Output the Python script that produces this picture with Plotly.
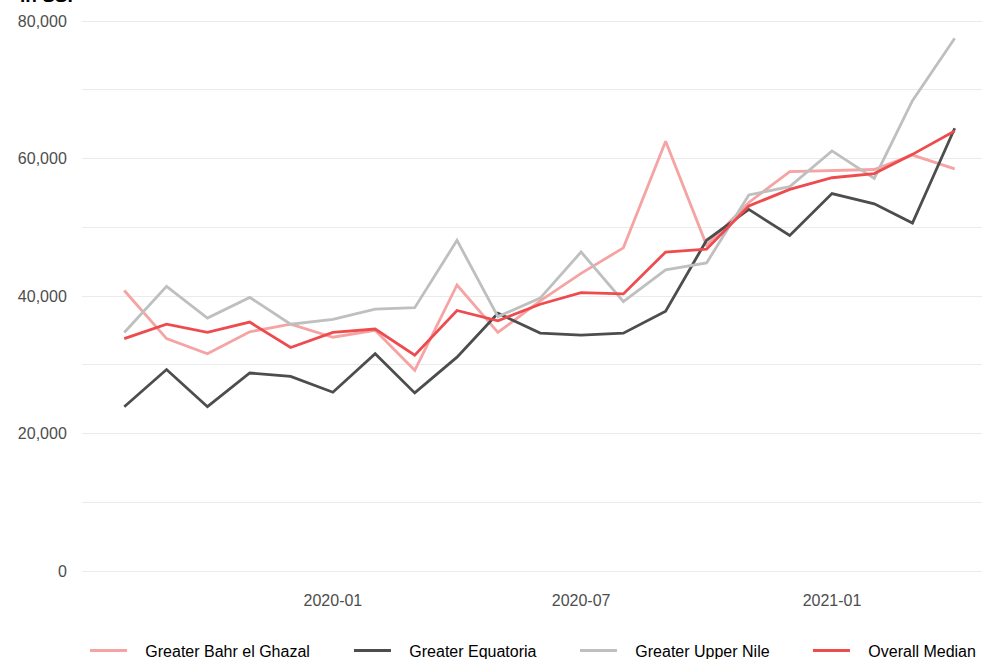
import plotly.graph_objects as go

months = ["2019-08-01", "2019-09-01", "2019-10-01", "2019-11-01", "2019-12-01",
          "2020-01-01", "2020-02-01", "2020-03-01", "2020-04-01", "2020-05-01",
          "2020-06-01", "2020-07-01", "2020-08-01", "2020-09-01", "2020-10-01",
          "2020-11-01", "2020-12-01", "2021-01-01", "2021-02-01", "2021-03-01",
          "2021-04-01"]

bahr_el_ghazal = [40800, 33800, 31600, 34800, 35900, 34000, 35000, 29200, 41600, 34700,
                  39300, 43300, 47000, 62500, 47400, 53600, 58100, 58200, 58400, 60500, 58500]
equatoria = [23900, 29300, 23900, 28800, 28300, 26000, 31600, 25900, 31100, 37500,
             34600, 34300, 34600, 37800, 48100, 52600, 48800, 54900, 53400, 50600, 64400]
upper_nile = [34700, 41400, 36800, 39800, 35900, 36600, 38100, 38300, 48100, 37000,
              39700, 46400, 39200, 43800, 44800, 54700, 55900, 61100, 57100, 68400, 77500]
overall_median = [33800, 35900, 34700, 36200, 32500, 34700, 35200, 31400, 37900, 36400,
                  38800, 40500, 40300, 46400, 46800, 53100, 55500, 57200, 57800, 60600, 64000]

series_names = ["Greater Bahr el Ghazal", "Greater Equatoria", "Greater Upper Nile", "Overall Median"]
series_values = [bahr_el_ghazal, equatoria, upper_nile, overall_median]
series_colors = ["#F5A3A3", "#4D4D4D", "#BEBFBF", "#EE4B4E"]
legend_widths = [212, 174, 181, 122]

y_tick_vals = [0, 20000, 40000, 60000, 80000]
y_tick_text = ["0", "20,000", "40,000", "60,000", "80,000"]
x_tick_vals = ["2020-01-01", "2020-07-01", "2021-01-01"]
x_tick_text = ["2020-01", "2020-07", "2021-01"]

FONT = "Liberation Sans, Arial, Helvetica, sans-serif"
FS = 16
LEGEND_PAD = "\u00a0\u00a0\u00a0"

fig = go.Figure()
for name, vals, col, lw in zip(series_names, series_values, series_colors, legend_widths):
    fig.add_trace(go.Scatter(x=months, y=vals, mode="lines", name=LEGEND_PAD + name,
                             line=dict(color=col, width=2.8), legendwidth=lw))

fig.update_layout(
    width=982, height=659,
    margin=dict(l=82, r=0, t=12, b=77, autoexpand=False),
    paper_bgcolor="white", plot_bgcolor="white",
    font=dict(family=FONT, size=FS, color="#4D4D4D"),
    showlegend=True,
    legend=dict(orientation="h", x=0.0033, xanchor="left", y=-0.0905, yanchor="top",
                font=dict(family=FONT, size=FS, color="#000000"),
                itemwidth=37, traceorder="normal", bgcolor="rgba(0,0,0,0)"),
    xaxis=dict(type="date", range=["2019-07-01", "2021-04-21"],
               tickvals=x_tick_vals, ticktext=x_tick_text,
               showgrid=False, zeroline=False, showline=False,
               ticks="outside", ticklen=4, tickcolor="rgba(0,0,0,0)",
               tickfont=dict(family=FONT, size=FS, color="#4D4D4D")),
    yaxis=dict(range=[-1600, 81309],
               tickvals=y_tick_vals, ticktext=y_tick_text,
               showgrid=True, gridcolor="#EBEBEB", gridwidth=1.2,
               zeroline=False, showline=False,
               minor=dict(tickvals=[10000, 30000, 50000, 70000], showgrid=True,
                          gridcolor="#EBEBEB", gridwidth=1.2),
               ticks="outside", ticklen=11, tickcolor="rgba(0,0,0,0)",
               tickfont=dict(family=FONT, size=FS, color="#4D4D4D")),
)

fig.add_annotation(text="<b>in SSP</b>", xref="paper", yref="paper",
                   x=-0.071, y=1.0075, xanchor="left", yanchor="bottom",
                   showarrow=False, font=dict(family=FONT, size=19, color="#000000"))

fig.write_html("out.html", config={"displayModeBar": False},
               post_script="document.body.style.margin='0';document.body.style.overflow='hidden';")
